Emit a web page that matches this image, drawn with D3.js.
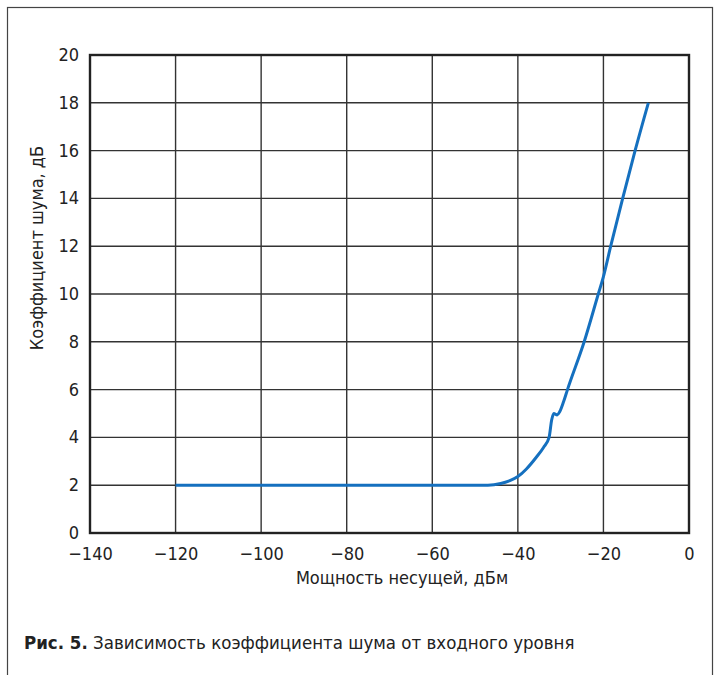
<!DOCTYPE html>
<html>
<head>
<meta charset="utf-8">
<script src="https://cdn.jsdelivr.net/npm/d3@7"></script>
<style>
  body { margin: 0; background: #fff; }
  text { font-family: "DejaVu Sans Condensed", "DejaVu Sans", sans-serif; font-stretch: condensed; fill: #222; }
</style>
</head>
<body>
<div id="chart"></div>
<script>
// power of carrier, dBm
var power = [-120, -47, -44, -42, -40, -38, -35.6, -34, -32.7, -32.1, -31.6, -30.8, -30.2, -29.3, -28.4, -24.5, -21.2, -20, -18.3, -15.5, -12.6, -9.5];
// noise figure, dB
var noise = [2, 2, 2.07, 2.18, 2.36, 2.68, 3.19, 3.58, 4.0, 4.73, 5.0, 4.94, 5.08, 5.5, 6, 8, 10, 10.73, 12, 14, 16, 18];

var xTicks = [-140, -120, -100, -80, -60, -40, -20, 0];
var yTicks = [0, 2, 4, 6, 8, 10, 12, 14, 16, 18, 20];

var xTitle = "Мощность несущей, дБм";
var yTitle = "Коэффициент шума, дБ";
var captionBold = "Рис. 5.";
var captionText = " Зависимость коэффициента шума от входного уровня";

var width = 719, height = 675;
var plot = { left: 90, right: 689, top: 55, bottom: 533 };

var svg = d3.select("#chart").append("svg")
    .attr("width", width)
    .attr("height", height);

// outer frame
svg.append("rect")
    .attr("x", 7.5).attr("y", 7.5)
    .attr("width", 705).attr("height", 700)
    .attr("fill", "none")
    .attr("stroke", "#444")
    .attr("stroke-width", 1.2);

var x = d3.scaleLinear().domain([-140, 0]).range([plot.left, plot.right]);
var y = d3.scaleLinear().domain([0, 20]).range([plot.bottom, plot.top]);

// grid
svg.append("g").selectAll("line")
    .data(xTicks.slice(1, -1))
    .enter().append("line")
    .attr("x1", function(d) { return x(d); })
    .attr("x2", function(d) { return x(d); })
    .attr("y1", plot.top).attr("y2", plot.bottom)
    .attr("stroke", "#333").attr("stroke-width", 1.4);

svg.append("g").selectAll("line")
    .data(yTicks.slice(1, -1))
    .enter().append("line")
    .attr("y1", function(d) { return y(d); })
    .attr("y2", function(d) { return y(d); })
    .attr("x1", plot.left).attr("x2", plot.right)
    .attr("stroke", "#333").attr("stroke-width", 1.4);

// plot border
svg.append("rect")
    .attr("x", plot.left).attr("y", plot.top)
    .attr("width", plot.right - plot.left)
    .attr("height", plot.bottom - plot.top)
    .attr("fill", "none")
    .attr("stroke", "#222")
    .attr("stroke-width", 2.4);

// axes (labels only)
var xAxis = d3.axisBottom(x).tickValues(xTicks).tickSize(0).tickPadding(14)
    .tickFormat(function(d) { return String(d).replace("-", "\u2212"); });
var gx = svg.append("g")
    .attr("transform", "translate(0," + plot.bottom + ")")
    .call(xAxis);
gx.select(".domain").remove();
gx.selectAll("text").attr("font-size", 18).attr("font-family", null);

var yAxis = d3.axisLeft(y).tickValues(yTicks).tickSize(0).tickPadding(11);
var gy = svg.append("g")
    .attr("transform", "translate(" + plot.left + ",0)")
    .call(yAxis);
gy.select(".domain").remove();
gy.selectAll("text").attr("font-size", 18).attr("font-family", null).attr("dy", "0.3em");

// data line
var line = d3.line()
    .x(function(d, i) { return x(power[i]); })
    .y(function(d, i) { return y(noise[i]); })
    .curve(d3.curveMonotoneX);

svg.append("path")
    .attr("d", line(power))
    .attr("fill", "none")
    .attr("stroke", "#1570bf")
    .attr("stroke-width", 3)
    .attr("stroke-linejoin", "round");

// axis titles
svg.append("text")
    .attr("x", 402).attr("y", 584)
    .attr("text-anchor", "middle")
    .attr("font-size", 18)
    .text(xTitle);

svg.append("text")
    .attr("transform", "translate(43,248)rotate(-90)")
    .attr("text-anchor", "middle")
    .attr("font-size", 18)
    .text(yTitle);

// caption
var cap = svg.append("text")
    .attr("x", 24).attr("y", 649)
    .attr("font-size", 18.5);
cap.append("tspan").attr("font-weight", "bold").text(captionBold);
cap.append("tspan").text(captionText);
</script>
</body>
</html>
